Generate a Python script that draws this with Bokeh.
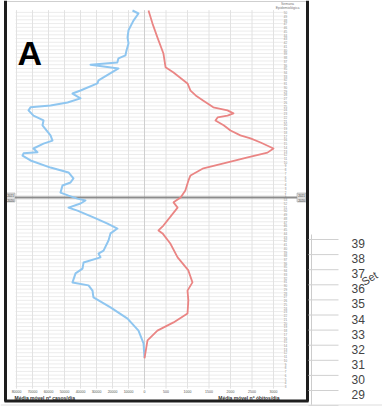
from bokeh.plotting import figure
from bokeh.models import Range1d
from bokeh.embed import file_html
from bokeh.resources import INLINE
from bokeh.core.properties import value

# ---------------- data ----------------
# epidemiological week index: 2020 weeks 1..53, 2021 week w -> 53 + w
semana_casos = [10.7, 14.5, 17.9, 21.1, 24.1, 26.8, 28.6, 30.0, 30.8, 33.2,
                34.5, 36.1, 37.5, 38.5, 39.3, 42.0, 43.9, 45.2, 46.5, 48.2,
                50.0, 50.8, 51.9, 52.7, 53.2, 54.0, 54.8, 56.7, 57.5, 58.6,
                60.2, 61.5, 63.4, 64.7, 65.3, 65.6, 66.6, 67.9, 68.7, 70.1,
                72.8, 74.1, 75.4, 76.8, 77.6, 78.1, 78.9, 80.0, 81.3, 82.1,
                84.0, 84.8, 88.0, 89.0, 89.6, 90.7, 91.5, 92.8, 94.7, 96.3,
                98.2, 100.8, 102.7, 103.5]
casos = [0, 600, 3750, 10600, 21250, 31900, 32500, 35000, 45000, 43100,
         38750, 38100, 27500, 28750, 25600, 22500, 21250, 16900, 23100, 31900,
         41900, 47500, 40000, 36900, 41900, 47500, 52500, 51250, 46250, 44400,
         47500, 58750, 71250, 76250, 75600, 66900, 69400, 63100, 57500, 58750,
         63750, 63100, 69400, 72500, 71250, 58750, 48100, 40000, 45000, 40000,
         29400, 28750, 16250, 33750, 17000, 16250, 11900, 11250, 10000, 10600,
         10000, 6900, 3750, 7500]

semana_obitos = [10.5, 15.3, 17.9, 20.1, 22.5, 26.0, 28.6, 30.8, 34.0, 37.5,
                 41.2, 43.9, 44.7, 46.0, 50.8, 52.2, 53.5, 55.4, 58.0, 59.4,
                 61.3, 62.6, 64.2, 65.5, 66.6, 68.2, 69.3, 70.1, 71.4, 72.8,
                 74.1, 74.9, 75.4, 76.0, 76.8, 77.6, 79.4, 80.8, 82.1, 84.0,
                 86.9, 88.3, 92.0, 96.3, 100.0, 103.5]
obitos = [0, 70, 300, 675, 1000, 1020, 1000, 1115, 1020, 770,
          600, 420, 325, 440, 770, 675, 840, 950, 1020, 1070,
          1370, 1840, 2400, 2860, 3000, 2700, 2465, 2230, 2000, 1840,
          1650, 1700, 1930, 2070, 1930, 1600, 1370, 1190, 1070, 1000,
          675, 490, 440, 300, 186, 93]

ticks_casos = [80000, 70000, 60000, 50000, 40000, 30000, 20000, 10000, 0]
ticks_obitos = [500, 1000, 1500, 2000, 2500, 3000]
semanas_2020 = list(range(3, 54))
semanas_2021 = list(range(1, 51))
anos = ["2021", "2020"]
set_ticks = [39, 38, 37, 36, 35, 34, 33, 32, 31, 30, 29]
set_grid = set_ticks + [28]

titulo_casos = "Média móvel nº casos/dia"
titulo_obitos = "Média móvel nº óbitos/dia"

# ---------------- figure ----------------
W, H = 382, 406
FONT = value("Liberation Sans")
p = figure(width=W, height=H, x_range=Range1d(0, W), y_range=Range1d(H, 0),
           min_border=0, toolbar_location=None, output_backend="svg",
           x_axis_location=None, y_axis_location=None)
p.outline_line_color = None
p.grid.grid_line_color = None
p.background_fill_color = "white"
p.border_fill_color = "white"

X0 = 144            # pixel of zero
C_PER_PX = 625.0    # casos per pixel
D_PER_PX = 3000 / 129.0
Y_SEP = 197         # pixel of 2020/2021 boundary
PX_WEEK = 3.74
p.extra_x_ranges = {
    "casos": Range1d(X0 * C_PER_PX, (X0 - W) * C_PER_PX),
    "obitos": Range1d(-X0 * D_PER_PX, (W - X0) * D_PER_PX),
}
p.extra_y_ranges = {
    "sem": Range1d(53.5 - (H - Y_SEP) / PX_WEEK, 53.5 + Y_SEP / PX_WEEK),
    "set": Range1d(29 - (H - 390) / 15.1, 29 + 390 / 15.1),
}
T_BOT, T_TOP = 2.4, 103.6

# week index list for grid / labels
t_all = semanas_2020 + [53 + w for w in semanas_2021]
lab_all = [str(w) for w in semanas_2020] + [str(w) for w in semanas_2021]

# horizontal week gridlines
p.segment(x0=[15] * len(t_all), x1=[285] * len(t_all), y0=t_all, y1=t_all,
          y_range_name="sem", line_color="#ececec", line_width=1)

# vertical gridlines
p.segment(x0=ticks_casos[:-1], x1=ticks_casos[:-1], y0=[T_BOT] * 8, y1=[T_TOP] * 8,
          x_range_name="casos", y_range_name="sem", line_color="#e2e2e2", line_width=1)
p.segment(x0=ticks_obitos, x1=ticks_obitos, y0=[T_BOT] * 6, y1=[T_TOP] * 6,
          x_range_name="obitos", y_range_name="sem", line_color="#e2e2e2", line_width=1)
p.segment(x0=[0], x1=[0], y0=[T_BOT], y1=[T_TOP],
          x_range_name="casos", y_range_name="sem", line_color="#cfcfcf", line_width=1)

# year separator
p.segment(x0=[5], x1=[307], y0=[53.5], y1=[53.5], y_range_name="sem",
          line_color="#8c8c8c", line_width=2)

# curves
p.line(x=casos, y=semana_casos, x_range_name="casos", y_range_name="sem",
       line_color="#8fc6f0", line_width=2, line_join="round")
p.line(x=obitos, y=semana_obitos, x_range_name="obitos", y_range_name="sem",
       line_color="#ea8584", line_width=1.8, line_join="round")

# right week labels
p.text(x=[285] * len(t_all), y=t_all, text=lab_all, y_range_name="sem",
       text_font=FONT, text_font_size="3px", text_color="#8a8a8a",
       text_align="center", text_baseline="middle")
p.text(x=[287, 287], y=[3, 7], text=["Semana", "Epidemiológica"],
       text_font=FONT, text_font_size="3.5px", text_color="#777777",
       text_align="center", text_baseline="middle")

# year boxes
p.rect(x=[10, 301], y=[197, 197], width=9, height=9, fill_color="#dddddd",
       line_color="#999999", line_width=0.5)
for xb in (10, 301):
    p.text(x=[xb, xb], y=[195, 199.5], text=anos, text_font=FONT,
           text_font_size="3px", text_color="#444444",
           text_align="center", text_baseline="middle")

# panel letter
p.text(x=[17], y=[52], text=["A"], text_font=FONT, text_font_size="34px",
       text_font_style="bold", text_color="#000000", text_baseline="alphabetic")

# bottom tick labels
p.text(x=ticks_casos, y=[391] * len(ticks_casos), text=[str(v) for v in ticks_casos],
       x_range_name="casos", text_font=FONT, text_font_size="3.5px",
       text_color="#555555", text_align="center", text_baseline="middle")
p.text(x=ticks_obitos, y=[391] * len(ticks_obitos), text=[str(v) for v in ticks_obitos],
       x_range_name="obitos", text_font=FONT, text_font_size="3.5px",
       text_color="#555555", text_align="center", text_baseline="middle")

# axis titles
p.text(x=[14], y=[397], text=[titulo_casos], text_font=FONT, text_font_size="5px",
       text_font_style="bold", text_color="#333333", text_baseline="middle")
p.text(x=[279], y=[397], text=[titulo_obitos], text_font=FONT, text_font_size="5px",
       text_font_style="bold", text_color="#333333", text_align="right",
       text_baseline="middle")

# outer frame
p.segment(x0=[5], x1=[307], y0=[1], y1=[1], line_color="#cfcfcf", line_width=1)
p.segment(x0=[5, 307, 4], x1=[5, 307, 308], y0=[0, 0, 400.5], y1=[401, 401, 400.5],
          line_color="#1e1e1e", line_width=3)

# right fragment of neighbouring chart
p.segment(x0=[311], x1=[311], y0=[234], y1=[H], line_color="#cccccc", line_width=1)
p.segment(x0=[308] * len(set_grid), x1=[338] * len(set_grid), y0=set_grid,
          y1=set_grid, y_range_name="set", line_color="#d0d0d0", line_width=1)
p.text(x=[351] * len(set_ticks), y=set_ticks, text=[str(v) for v in set_ticks],
       y_range_name="set", text_font=FONT, text_font_size="12px",
       text_color="#444444", text_baseline="middle", y_offset=4)
p.text(x=[362], y=[282], text=["Set"], angle=0.55, text_font=FONT,
       text_font_size="11px", text_color="#444444", text_baseline="alphabetic")
p.segment(x0=[0], x1=[W], y0=[404.5], y1=[404.5], line_color="#dddddd", line_width=1)

open("out.html", "w").write(file_html(p, INLINE))
